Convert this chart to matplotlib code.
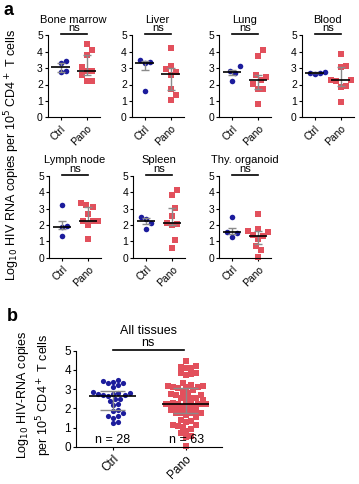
import numpy as np
import matplotlib
matplotlib.use("Agg")
import matplotlib.pyplot as plt

plt.rcParams['font.family'] = ['Liberation Sans', 'DejaVu Sans']

# values (log10 copies)
tissues = ["Bone marrow", "Liver", "Lung", "Blood", "Lymph node", "Spleen", "Thy. organoid"]
ctrl_vals = [
    [3.42, 3.3, 2.8, 2.75],
    [3.48, 3.38, 3.3, 1.62],
    [3.1, 2.85, 2.7, 2.2],
    [2.78, 2.72, 2.7, 2.62],
    [3.2, 1.92, 1.88, 1.3],
    [2.5, 2.38, 2.15, 1.75],
    [2.5, 1.6, 1.52, 1.25],
]
pano_vals = [
    [4.46, 4.1, 3.8, 3.09, 2.85, 2.81, 2.55, 2.21, 2.21],
    [4.2, 3.15, 2.95, 2.75, 2.55, 1.75, 1.35, 1.05],
    [4.12, 3.75, 2.55, 2.45, 2.25, 2.05, 1.75, 1.75, 0.8],
    [3.86, 3.15, 3.09, 2.29, 2.25, 2.2, 1.89, 1.85, 0.94],
    [3.33, 3.2, 3.1, 2.7, 2.25, 2.24, 2.22, 2.03, 1.14],
    [4.16, 3.85, 3.06, 2.55, 2.13, 2.07, 1.97, 1.06, 0.58],
    [2.68, 1.75, 1.65, 1.55, 1.4, 1.3, 1.15, 0.7, 0.5, 0.02],
]
groups = ["Ctrl", "Pano"]

blue = "#1c1c9c"
red = "#e2505c"
grey = "#8a8a8a"


def swarm(vals, d, ky, ypx, xpx, maxw):
    # beeswarm-ish spread, offsets returned in data units
    vals = np.asarray(vals)
    offs = np.zeros(len(vals))
    placed = []
    cands = [0.0]
    k = 1
    while k * d * 0.5 <= maxw:
        cands += [k * d * 0.5, -k * d * 0.5]
        k += 1
    for i in np.argsort(vals):
        y = vals[i] * ypx
        best, bestd = 0.0, -1
        for dx in cands:
            dist = min([((dx - px) / d) ** 2 + ((y - py) / (d * ky)) ** 2 for px, py in placed] + [9])
            if dist >= 1:
                best = dx
                break
            if dist > bestd:
                best, bestd = dx, dist
        placed.append((best, y))
        offs[i] = best / xpx
    return offs


def draw_group(ax, x, vals, color, marker, ms, d, ky, maxw, ypx, xpx, mw, cw):
    vals = np.asarray(vals)
    offs = swarm(vals, d, ky, ypx, xpx, maxw)
    ax.scatter(x + offs, vals, s=ms, c=color, marker=marker, lw=0, zorder=2, clip_on=False)
    q1, med, q3 = np.percentile(vals, [25, 50, 75])
    ax.vlines(x, q1, q3, color=grey, lw=1, zorder=3)
    ax.hlines([q1, q3], x - cw, x + cw, color=grey, lw=1, zorder=3)
    ax.hlines(med, x - mw, x + mw, color="k", lw=1.2, zorder=4)


def style(ax, fs):
    ax.set_xlim(-0.5, 1.5)
    ax.set_ylim(0, 5)
    ax.spines['top'].set_visible(False)
    ax.spines['right'].set_visible(False)
    ax.set_yticks(range(6))
    ax.set_xticks([0, 1])
    ax.set_xticklabels(groups, rotation=45, ha='right', rotation_mode='anchor', fontsize=fs)
    ax.tick_params(axis='y', labelsize=fs, length=2.5, pad=1)
    ax.tick_params(axis='x', length=2.5, pad=2)


W, H = 359, 484
fig = plt.figure(figsize=(W / 100, H / 100), dpi=100)

lefts = [47.7, 131.7, 219, 301.7, 49, 133, 219]
zeros = [117.3, 117.3, 117.3, 117.3, 257.8, 257.8, 257.8]
aw, ah = 52, 82

for i, t in enumerate(tissues):
    ax = fig.add_axes([lefts[i] / W, 1 - zeros[i] / H, aw / W, ah / H])
    style(ax, 7.5)
    ypx, xpx = ah / 5, aw / 2
    draw_group(ax, 0, ctrl_vals[i], blue, 'o', 16, 5, 1.7, 10, ypx, xpx, 0.36, 0.16)
    draw_group(ax, 1, pano_vals[i], red, 's', 16, 5, 1.7, 10, ypx, xpx, 0.36, 0.16)
    ax.plot([0, 1], [5.05, 5.05], color='k', lw=1.2, clip_on=False)
    ax.text(0.5, 5.12, "ns", ha='center', va='bottom', fontsize=8)
    ax.text(0.5, 5.95, t, ha='center', va='center', fontsize=8)

fig.text(12 / W, 1 - 155 / H, r"Log$_{10}$ HIV RNA copies per 10$^5$ CD4$^+$ T cells",
         rotation=90, ha='center', va='center', fontsize=9)
fig.text(3 / W, 1 - 2 / H, "a", fontsize=13, fontweight='bold', va='top')
fig.text(7 / W, 1 - 308 / H, "b", fontsize=13, fontweight='bold', va='top')

# panel b: all tissues pooled
all_ctrl = np.concatenate(ctrl_vals)
all_pano = np.concatenate(pano_vals)
bw, bh = 146, 96
axb = fig.add_axes([76 / W, 1 - 446.7 / H, bw / W, bh / H])
style(axb, 8.5)
axb.tick_params(axis='x', labelsize=8.5)
ypx, xpx = bh / 5, bw / 2
draw_group(axb, 0, all_ctrl, blue, 'o', 14, 5, 1.0, 24, ypx, xpx, 0.32, 0.17)
draw_group(axb, 1, all_pano, red, 's', 14, 5, 1.0, 24, ypx, xpx, 0.32, 0.17)
axb.plot([0, 0.98], [5.03, 5.03], color='k', lw=1.2, clip_on=False)
axb.text(0.49, 5.08, "ns", ha='center', va='bottom', fontsize=9)
axb.text(0.49, 6.05, "All tissues", ha='center', va='center', fontsize=9)
axb.text(0, 0.33, "n = %d" % len(all_ctrl), ha='center', va='center', fontsize=9)
axb.text(1.02, 0.33, "n = %d" % len(all_pano), ha='center', va='center', fontsize=9)

fig.text(23 / W, 1 - 395 / H, r"Log$_{10}$ HIV-RNA copies", rotation=90,
         ha='center', va='center', fontsize=9)
fig.text(44 / W, 1 - 395 / H, r"per 10$^5$ CD4$^+$ T cells", rotation=90,
         ha='center', va='center', fontsize=9)

fig.savefig("out.png", dpi=100, facecolor='white')
